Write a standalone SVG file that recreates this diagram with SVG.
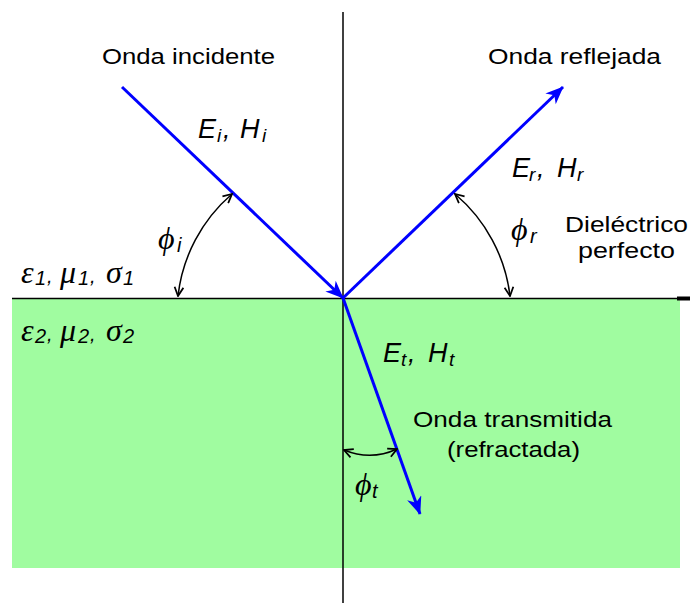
<svg xmlns="http://www.w3.org/2000/svg" width="690" height="603" viewBox="0 0 690 603">
  <style>
    .lbl { font-family: "Liberation Sans", Arial, sans-serif; font-size: 22px; fill: #000; }
    .it { font-family: "Liberation Sans", Arial, sans-serif; font-style: italic; font-size: 27px; fill: #000; }
    .sub { font-size: 19px; }
    .gr { font-family: "Liberation Serif", "DejaVu Serif", serif; font-style: italic; font-size: 32px; fill: #000; }
    .gs { font-family: "Liberation Sans", Arial, sans-serif; font-style: italic; font-size: 20px; fill: #000; }
    .ray { stroke: #0000ff; stroke-width: 3; fill: none; marker-end: url(#blueArrow); }
    .arc { stroke: #000; stroke-width: 1.5; fill: none; marker-start: url(#blackArrow); marker-end: url(#blackArrow); }
    .axis { stroke: #000; stroke-width: 1.5; fill: none; }
  </style>
  <defs>
    <marker id="blueArrow" viewBox="0 0 12 10" refX="11.5" refY="5" markerWidth="19" markerHeight="15" markerUnits="userSpaceOnUse" orient="auto">
      <path d="M0,0 L12,5 L0,10 L3.5,5 z" fill="#0000ff"/>
    </marker>
    <marker id="blackArrow" viewBox="0 0 10 10" refX="9" refY="5" markerWidth="11" markerHeight="11" markerUnits="userSpaceOnUse" orient="auto-start-reverse">
      <path d="M1,1 L9,5 L1,9" fill="none" stroke="#000" stroke-width="1.6"/>
    </marker>
  </defs>

  <g id="medium2">
    <rect x="12" y="299" width="668" height="269" fill="#a0fca0"/>
  </g>

  <g id="axes">
    <line class="axis" x1="12" y1="298.5" x2="680" y2="298.5"/>
    <line x1="677" y1="298.5" x2="690" y2="298.5" stroke="#000" stroke-width="4"/>
    <line class="axis" x1="343" y1="12" x2="343" y2="603"/>
  </g>

  <g id="connectors">
    <line id="incident" class="ray" x1="122" y1="87" x2="343" y2="298"/>
    <line id="reflected" class="ray" x1="343" y1="298" x2="563" y2="87"/>
    <line id="transmitted" class="ray" x1="343" y1="298" x2="420" y2="514"/>
    <path id="arc-i" class="arc" d="M232,194 A158,158 0 0,0 178,296"/>
    <path id="arc-r" class="arc" d="M455,194 A158,158 0 0,1 510,296"/>
    <path id="arc-t" class="arc" d="M344,450 Q371,461 397,449"/>
  </g>

  <g id="label-incidente">
    <text class="lbl" x="102" y="64" textLength="173" lengthAdjust="spacingAndGlyphs">Onda incidente</text>
  </g>
  <g id="label-reflejada">
    <text class="lbl" x="488" y="64" textLength="173" lengthAdjust="spacingAndGlyphs">Onda reflejada</text>
  </g>
  <g id="label-transmitida">
    <text class="lbl" x="413" y="427" textLength="199" lengthAdjust="spacingAndGlyphs">Onda transmitida</text>
    <text class="lbl" x="447" y="457" textLength="133" lengthAdjust="spacingAndGlyphs">(refractada)</text>
  </g>
  <g id="label-dielectrico">
    <text class="lbl" x="565" y="232" textLength="123" lengthAdjust="spacingAndGlyphs">Dieléctrico</text>
    <text class="lbl" x="578" y="258" textLength="97" lengthAdjust="spacingAndGlyphs">perfecto</text>
  </g>

  <g id="label-Ei">
    <text class="it" y="138"><tspan x="198">E</tspan><tspan class="sub" x="217" dy="4">i</tspan><tspan x="223" dy="-4">,</tspan><tspan x="240">H</tspan><tspan class="sub" x="262" dy="4">i</tspan></text>
  </g>
  <g id="label-Er">
    <text class="it" y="177"><tspan x="512">E</tspan><tspan class="sub" x="529" dy="4">r</tspan><tspan x="537" dy="-4">,</tspan><tspan x="557">H</tspan><tspan class="sub" x="577" dy="4">r</tspan></text>
  </g>
  <g id="label-Et">
    <text class="it" y="362"><tspan x="383">E</tspan><tspan class="sub" x="401" dy="4">t</tspan><tspan x="408" dy="-4">,</tspan><tspan x="428">H</tspan><tspan class="sub" x="449" dy="4">t</tspan></text>
  </g>

  <g id="label-medium1">
    <text y="283"><tspan class="gr" x="21">ε</tspan><tspan class="gs" x="35" dy="2">1</tspan><tspan class="gs" x="47" dy="-2">,</tspan><tspan class="gr" x="60">μ</tspan><tspan class="gs" x="78" dy="2">1</tspan><tspan class="gs" x="90" dy="-2">,</tspan><tspan class="gr" x="106">σ</tspan><tspan class="gs" x="123" dy="2">1</tspan></text>
  </g>
  <g id="label-medium2">
    <text y="341"><tspan class="gr" x="21">ε</tspan><tspan class="gs" x="35" dy="2">2</tspan><tspan class="gs" x="47" dy="-2">,</tspan><tspan class="gr" x="60">μ</tspan><tspan class="gs" x="78" dy="2">2</tspan><tspan class="gs" x="90" dy="-2">,</tspan><tspan class="gr" x="106">σ</tspan><tspan class="gs" x="123" dy="2">2</tspan></text>
  </g>

  <g id="label-phi-i">
    <text y="249"><tspan class="gr" x="158">ϕ</tspan><tspan class="gs" x="177" dy="3">i</tspan></text>
  </g>
  <g id="label-phi-r">
    <text y="240"><tspan class="gr" x="511">ϕ</tspan><tspan class="gs" x="530" dy="3">r</tspan></text>
  </g>
  <g id="label-phi-t">
    <text y="495"><tspan class="gr" x="355">ϕ</tspan><tspan class="gs" x="372" dy="3">t</tspan></text>
  </g>
</svg>
